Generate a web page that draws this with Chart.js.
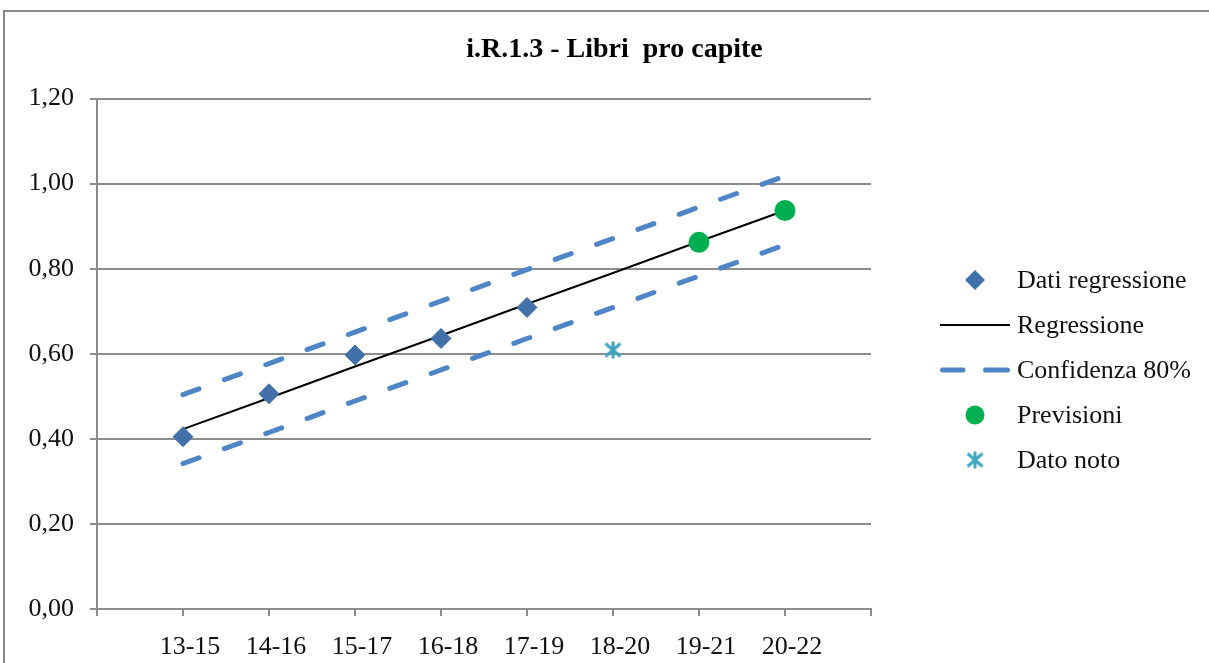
<!DOCTYPE html>
<html>
<head>
<meta charset="utf-8">
<script src="https://cdn.jsdelivr.net/npm/chart.js@4.4.1/dist/chart.umd.min.js"></script>
<style>
  html, body { margin: 0; padding: 0; background: #fff; overflow: hidden; width: 1209px; height: 663px; }
  #wrap { position: relative; width: 1209px; height: 663px; overflow: hidden; }
  #c { position: absolute; left: 0; top: 0; }
  #frame { position: absolute; left: 3px; top: 10px; width: 1300px; height: 800px; border: 2px solid #8a8a8a; pointer-events: none; }
</style>
</head>
<body>
<div id="wrap">
  <canvas id="c" width="1229" height="663" style="width:1229px;height:663px"></canvas>
  <div id="frame"></div>
</div>
<script>
const titleText = 'i.R.1.3 - Libri  pro capite';
const categories = ['13-15', '14-16', '15-17', '16-18', '17-19', '18-20', '19-21', '20-22'];
const datiRegressione = [0.405, 0.506, 0.597, 0.636, 0.709, null, null, null];
const regressione = [0.423, 0.496, 0.570, 0.643, 0.717, 0.790, 0.864, 0.937];
const confidenzaSup = [0.504, 0.577, 0.651, 0.724, 0.798, 0.871, 0.945, 1.018];
const confidenzaInf = [0.342, 0.415, 0.489, 0.562, 0.636, 0.709, 0.783, 0.856];
const previsioni = [null, null, null, null, null, null, 0.862, 0.937];
const datoNoto = [null, null, null, null, null, 0.609, null, null];
const seriesNames = ['Dati regressione', 'Regressione', 'Confidenza 80%', 'Previsioni', 'Dato noto'];

const FONT = "'Liberation Serif', 'Times New Roman', serif";
const GRID = '#8c8c8c';
const C_DIAMOND = '#4271aa';
const C_DASH = '#4d85c6';
const C_GREEN = '#00b050';
const C_TEAL = '#3ea6bd';

function toPoints(arr) { return arr.map((v, i) => ({ x: i + 1, y: v })); }

function asteriskImage(size, color) {
  const cv = document.createElement('canvas');
  cv.width = size; cv.height = size;
  const g = cv.getContext('2d');
  g.strokeStyle = color; g.lineWidth = 3; g.lineCap = 'butt';
  const m = size / 2, r = size / 2 - 1;
  g.beginPath();
  g.moveTo(m, 1); g.lineTo(m, size - 1);
  g.moveTo(2, 3); g.lineTo(size - 2, size - 3);
  g.moveTo(2, size - 3); g.lineTo(size - 2, 3);
  g.stroke();
  return cv;
}
const starImg = asteriskImage(19, C_TEAL);

const legendPlugin = {
  id: 'customLegend',
  afterDraw(chart) {
    const ctx = chart.ctx;
    const x0 = 940, x1 = 1010, cx = 975, tx = 1017;
    const rows = [280, 325, 370, 415, 460];
    ctx.save();
    ctx.font = '26px ' + FONT;
    ctx.fillStyle = '#111';
    ctx.textBaseline = 'middle';
    ctx.textAlign = 'left';
    let y = rows[0];
    ctx.save();
    ctx.fillStyle = C_DIAMOND;
    ctx.beginPath();
    ctx.moveTo(cx, y - 10); ctx.lineTo(cx + 10, y); ctx.lineTo(cx, y + 10); ctx.lineTo(cx - 10, y); ctx.closePath();
    ctx.fill();
    ctx.restore();
    y = rows[1];
    ctx.save();
    ctx.strokeStyle = '#000'; ctx.lineWidth = 2;
    ctx.beginPath(); ctx.moveTo(x0, y); ctx.lineTo(x1, y); ctx.stroke();
    ctx.restore();
    y = rows[2];
    ctx.save();
    ctx.strokeStyle = C_DASH; ctx.lineWidth = 5; ctx.lineCap = 'round';
    ctx.beginPath(); ctx.moveTo(x0 + 2.5, y); ctx.lineTo(x0 + 23, y);
    ctx.moveTo(x0 + 45.5, y); ctx.lineTo(x1 - 2.5, y); ctx.stroke();
    ctx.restore();
    y = rows[3];
    ctx.save();
    ctx.fillStyle = C_GREEN;
    ctx.beginPath(); ctx.arc(cx, y, 9.5, 0, Math.PI * 2); ctx.fill();
    ctx.restore();
    y = rows[4];
    ctx.drawImage(starImg, cx - starImg.width / 2, y - starImg.height / 2);
    seriesNames.forEach((n, i) => ctx.fillText(n, tx, rows[i] + 1));
    ctx.restore();
  }
};

new Chart(document.getElementById('c'), {
  type: 'line',
  data: {
    datasets: [
      { label: seriesNames[0], data: toPoints(datiRegressione), showLine: false,
        pointStyle: 'rectRot', pointRadius: 10, pointBackgroundColor: C_DIAMOND, pointBorderColor: C_DIAMOND, pointBorderWidth: 1 },
      { label: seriesNames[3], data: toPoints(previsioni), showLine: false,
        pointStyle: 'circle', pointRadius: 10.5, pointBackgroundColor: C_GREEN, pointBorderColor: C_GREEN, pointBorderWidth: 0 },
      { label: seriesNames[4], data: toPoints(datoNoto), showLine: false,
        pointStyle: starImg, pointRadius: 10 },
      { label: seriesNames[1], data: toPoints(regressione), borderColor: '#000', borderWidth: 2,
        pointRadius: 0, tension: 0 },
      { label: seriesNames[2], data: toPoints(confidenzaSup), borderColor: C_DASH, borderWidth: 5,
        borderDash: [17, 27], borderCapStyle: 'round', pointRadius: 0, tension: 0 },
      { label: seriesNames[2], data: toPoints(confidenzaInf), borderColor: C_DASH, borderWidth: 5,
        borderDash: [17, 27], borderCapStyle: 'round', pointRadius: 0, tension: 0 }
    ]
  },
  options: {
    responsive: false,
    devicePixelRatio: 1,
    animation: false,
    events: [],
    layout: { padding: 0 },
    plugins: {
      legend: { display: false },
      tooltip: { enabled: false },
      title: {
        display: true, text: titleText, color: '#000',
        font: { family: FONT, size: 28, weight: 'bold', lineHeight: 1.2 },
        padding: { top: 33, bottom: 32 }
      }
    },
    scales: {
      x: {
        type: 'linear', position: 'bottom', min: 0, max: 9,
        afterFit(s) { s.height = 54; },
        ticks: {
          stepSize: 1, autoSkip: false, maxRotation: 0, labelOffset: 7, padding: 16,
          color: '#111', font: { family: FONT, size: 26 },
          callback: (v) => categories[v - 1] || ''
        },
        grid: { drawOnChartArea: false, drawTicks: true, tickLength: 7, color: GRID, lineWidth: 2 },
        border: { display: true, color: GRID, width: 2 }
      },
      y: {
        type: 'linear', position: 'left', min: 0, max: 1.2,
        afterFit(s) { s.width = 97; },
        ticks: {
          stepSize: 0.2, padding: 16, color: '#111', font: { family: FONT, size: 26 },
          callback: (v) => v.toFixed(2).replace('.', ',')
        },
        grid: { color: GRID, lineWidth: 2, tickLength: 7, drawTicks: true },
        border: { display: true, color: GRID, width: 2 }
      },
      spacer: {
        type: 'linear', position: 'right', display: true, min: 0, max: 1,
        afterFit(s) { s.width = 1229 - 871; },
        ticks: { display: false },
        grid: { display: false, drawTicks: false },
        border: { display: false }
      }
    }
  },
  plugins: [legendPlugin]
});
</script>
</body>
</html>
